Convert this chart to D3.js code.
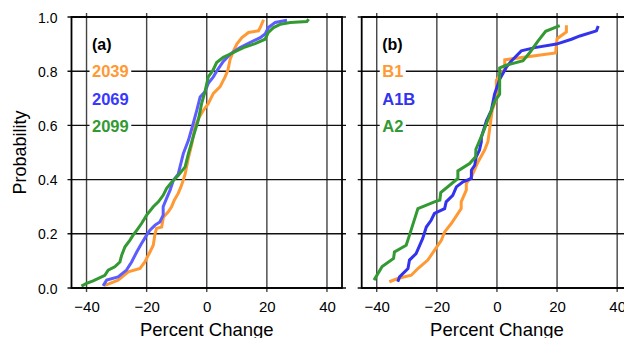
<!DOCTYPE html>
<html><head><meta charset="utf-8">
<script src="https://cdn.jsdelivr.net/npm/d3@7"></script>
<style>body{margin:0;background:#fff}svg{display:block}</style>
</head><body><svg id="c" width="624" height="338"></svg>
<script>
// ---- data ----
const xTicks = [-40, -20, 0, 20, 40];
const yTicks = [0.0, 0.2, 0.4, 0.6, 0.8, 1.0];
const panelLabels = ["(a)", "(b)"];
const seriesNamesA = ["2039", "2069", "2099"];
const seriesNamesB = ["B1", "A1B", "A2"];

const a2039_x = [-33.9,-32.8,-29.5,-26.1,-22.2,-20.6,-18.9,-17.8,-17.2,-16.7,-15.0,-14.4,-12.8,-11.7,-10.8,-9.5,-8.6,-7.8,-7.2,-6.1,-5.0,-3.9,-2.8,-1.1,0.5,2.2,4.4,6.1,7.0,7.8,8.9,10.0,11.7,13.9,17.2,17.8,18.9];
const a2039_p = [0.01,0.014,0.029,0.06,0.072,0.096,0.133,0.158,0.2,0.22,0.225,0.262,0.281,0.3,0.324,0.349,0.373,0.398,0.42,0.48,0.53,0.594,0.625,0.656,0.68,0.718,0.742,0.779,0.802,0.844,0.875,0.9,0.924,0.943,0.949,0.961,0.99];

const a2069_x = [-34.5,-33.3,-29.5,-26.7,-25.0,-23.3,-21.7,-20.0,-18.9,-17.2,-15.6,-14.5,-14.5,-13.4,-12.2,-11.1,-9.5,-7.8,-6.1,-4.5,-3.3,-2.2,-0.6,0.5,2.2,3.6,5.5,7.8,11.1,14.4,17.8,19.4,20.5,22.8,26.7];
const a2069_p = [0.008,0.029,0.041,0.066,0.096,0.133,0.164,0.195,0.213,0.232,0.244,0.269,0.3,0.33,0.361,0.398,0.42,0.496,0.545,0.607,0.656,0.705,0.724,0.755,0.779,0.805,0.836,0.863,0.887,0.906,0.924,0.937,0.961,0.98,0.988];

const a2099_x = [-41.7,-40.0,-37.8,-33.9,-32.8,-30.6,-28.9,-28.3,-27.2,-25.6,-24.5,-23.3,-21.7,-20.0,-17.8,-16.1,-14.5,-13.4,-11.7,-9.5,-7.2,-6.1,-4.5,-2.8,-1.7,-0.6,0.5,2.0,3.3,5.5,8.9,12.2,16.1,19.4,20.5,22.2,24.4,27.8,33.3,33.9];
const a2099_p = [0.007,0.017,0.026,0.047,0.066,0.078,0.096,0.121,0.152,0.176,0.195,0.213,0.238,0.269,0.3,0.318,0.342,0.367,0.39,0.415,0.447,0.496,0.558,0.62,0.681,0.724,0.779,0.802,0.832,0.851,0.869,0.887,0.902,0.918,0.943,0.961,0.973,0.98,0.983,0.992];

const bB1_x = [-35.8,-33.0,-28.5,-26.3,-23.0,-20.8,-18.5,-17.4,-15.2,-14.1,-11.9,-11.9,-10.2,-10.2,-8.5,-6.3,-4.1,-3.0,-1.6,-0.2,-0.2,1.5,2.6,2.6,19.5,20.0,23.1,23.1];
const bB1_p = [0.023,0.035,0.047,0.072,0.103,0.139,0.176,0.207,0.238,0.256,0.293,0.318,0.361,0.386,0.41,0.465,0.509,0.54,0.655,0.70,0.767,0.792,0.807,0.842,0.867,0.92,0.945,0.97];

const bA1B_x = [-33.0,-32.4,-29.6,-29.1,-26.9,-24.7,-23.5,-21.9,-20.8,-17.4,-16.9,-14.7,-13.5,-11.3,-8.5,-8.5,-7.4,-6.9,-5.8,-5.2,-5.2,-3.5,-1.9,-0.8,0.9,3.1,4.8,8.1,12.6,19.8,24.8,27.6,33.1,33.7];
const bA1B_p = [0.023,0.041,0.072,0.103,0.127,0.183,0.225,0.25,0.275,0.293,0.318,0.342,0.373,0.392,0.404,0.435,0.453,0.484,0.509,0.539,0.555,0.617,0.654,0.715,0.77,0.814,0.838,0.875,0.887,0.9,0.918,0.93,0.949,0.967];

const bA2_x = [-40.9,-38.2,-34.4,-34.1,-30.2,-29.1,-26.3,-20.8,-19.0,-18.7,-13.0,-13.0,-9.1,-7.1,-7.0,-4.4,-2.7,-0.7,0.9,0.9,2.8,8.7,11.0,13.7,16.2,20.9];
const bA2_p = [0.029,0.079,0.109,0.133,0.158,0.195,0.293,0.318,0.324,0.352,0.404,0.432,0.459,0.484,0.512,0.58,0.63,0.69,0.715,0.812,0.821,0.839,0.87,0.912,0.947,0.968];

// ---- drawing ----
const svg = d3.select("#c");
const FONT = "'Liberation Sans', Arial, Helvetica, sans-serif";
const yTop = 17, yBot = 288;
const y = d3.scaleLinear().domain([0, 1]).range([yBot, yTop]);

const panels = [
  {x0: 71.5, label: panelLabels[0], names: seriesNamesA, yLabels: true,
   series: [
     {x: a2039_x, p: a2039_p, color: "#ff9933", tcolor: "#ff9933"},
     {x: a2069_x, p: a2069_p, color: "#5c5cff", tcolor: "#3838ff"},
     {x: a2099_x, p: a2099_p, color: "#339933", tcolor: "#339933"}]},
  {x0: 361.7, label: panelLabels[1], names: seriesNamesB, yLabels: false,
   series: [
     {x: bB1_x, p: bB1_p, color: "#ff9933", tcolor: "#ff9933"},
     {x: bA1B_x, p: bA1B_p, color: "#3333ee", tcolor: "#3333ee"},
     {x: bA2_x, p: bA2_p, color: "#339933", tcolor: "#339933"}]}
];

panels.forEach(P => {
  const x = d3.scaleLinear().domain([-45, 45]).range([P.x0, P.x0 + 270.5]);
  const g = svg.append("g");
  const ext = 4;
  g.selectAll(".vg").data(xTicks).join("line")
    .attr("x1", d => x(d)).attr("x2", d => x(d))
    .attr("y1", yTop - ext).attr("y2", yBot + ext)
    .attr("stroke", "#444").attr("stroke-width", 1.4);
  g.selectAll(".hg").data(yTicks).join("line")
    .attr("x1", P.x0 - ext).attr("x2", P.x0 + 270.5 + ext)
    .attr("y1", d => y(d)).attr("y2", d => y(d))
    .attr("stroke", "#111").attr("stroke-width", 1.4);
  const line = d3.line().x(d => x(d[0])).y(d => y(d[1]));
  P.series.forEach(s => {
    const pts = s.x.map((v, i) => [v, s.p[i]]);
    g.append("path").datum(pts).attr("d", line)
      .attr("fill", "none").attr("stroke", s.color)
      .attr("stroke-width", 3).attr("stroke-linejoin", "miter").attr("stroke-linecap", "butt");
  });
  g.append("rect").attr("x", x.range()[0]).attr("y", yTop)
    .attr("width", x.range()[1] - x.range()[0]).attr("height", yBot - yTop)
    .attr("fill", "none").attr("stroke", "#000").attr("stroke-width", 1.8);
  const xa = d3.axisBottom(x).tickValues(xTicks).tickSize(0).tickPadding(0);
  const gx = g.append("g").attr("transform", `translate(0,${yBot})`).call(xa);
  gx.select(".domain").remove();
  gx.selectAll("text").attr("y", 24.3).attr("dy", null)
    .style("font-family", FONT).style("font-size", "15px").attr("fill", "#000");
  g.append("text").attr("x", x(0)).attr("y", 336).attr("text-anchor", "middle")
    .style("font-family", FONT).style("font-size", "18.5px").text("Percent Change");
  if (P.yLabels) {
    const ya = d3.axisLeft(y).tickValues(yTicks).tickSize(0).tickPadding(0).tickFormat(d3.format(".1f"));
    const gy = g.append("g").attr("transform", `translate(${P.x0 - 14},0)`).call(ya);
    gy.select(".domain").remove();
    gy.selectAll("text").attr("x", 0).attr("dy", "0.36em")
      .style("font-family", FONT).style("font-size", "14px").attr("fill", "#000");
    g.append("text").attr("transform", `translate(25.5,152.5) rotate(-90)`)
      .attr("text-anchor", "middle").style("font-family", FONT).style("font-size", "18px")
      .text("Probability");
  }
  const lx = x(-40) + 5.5;
  g.append("text").attr("x", lx).attr("y", 50).style("font-family", FONT)
    .style("font-size", "16px").style("font-weight", "bold").text(P.label);
  const baselines = [77, 105, 132];
  P.names.forEach((n, i) => {
    const t = g.append("text").attr("x", lx).attr("y", baselines[i]).style("font-family", FONT)
      .style("font-size", "16.5px").style("font-weight", "bold").attr("fill", P.series[i].tcolor).text(n);
    const bb = t.node().getBBox();
    g.insert("rect", () => t.node()).attr("x", bb.x - 2.5).attr("y", bb.y + 1)
      .attr("width", bb.width + 5).attr("height", bb.height - 2).attr("fill", "#fff");
  });
});
</script></body></html>
